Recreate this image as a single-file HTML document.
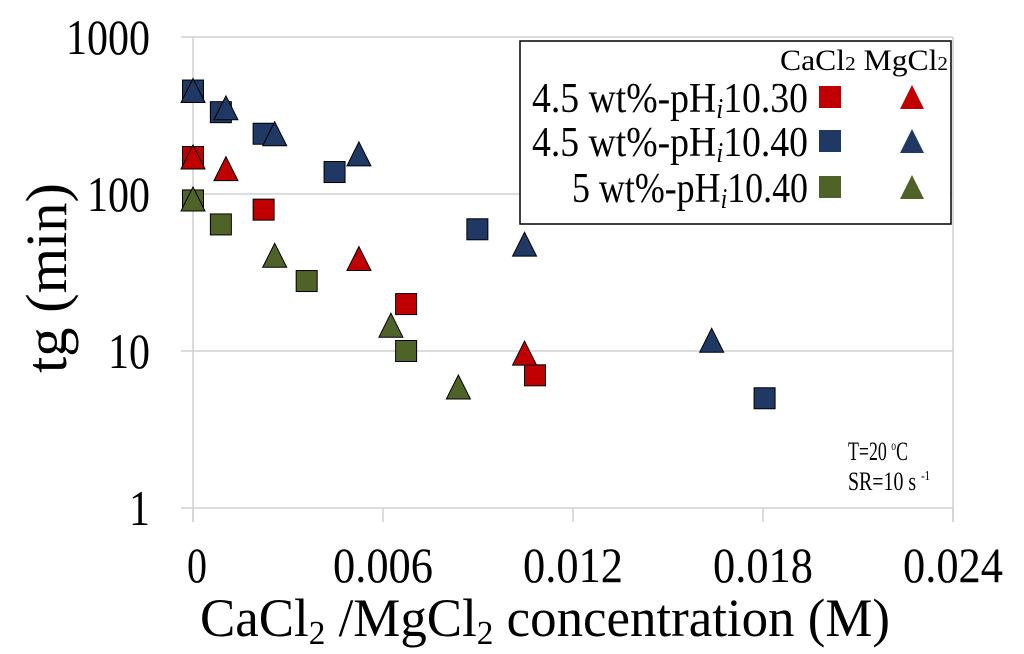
<!DOCTYPE html>
<html><head><meta charset="utf-8"><style>
html,body{margin:0;padding:0;background:#fff;}
svg{display:block;font-family:"Liberation Serif",serif;}
</style></head><body>
<svg width="1024" height="654" viewBox="0 0 1024 654">
<g id="grid"></g>
<g id="axes"></g>
<g id="marks"></g>
<text transform="translate(66,278) rotate(-90)" text-anchor="middle" font-size="58" textLength="190" lengthAdjust="spacingAndGlyphs">tg (min)</text>
<text x="200" y="636" font-size="54" textLength="690" lengthAdjust="spacingAndGlyphs">CaCl<tspan font-size="34" dy="8">2</tspan><tspan dy="-8"> /MgCl</tspan><tspan font-size="34" dy="8">2</tspan><tspan dy="-8"> concentration (M)</tspan></text>
<g>
<rect x="520" y="41" width="431" height="183" fill="#fff" stroke="#000" stroke-width="1.5"/>
<text x="780" y="70" font-size="30" textLength="168" lengthAdjust="spacingAndGlyphs">CaCl<tspan font-size="20">2</tspan> MgCl<tspan font-size="20">2</tspan></text>
<text x="532" y="112" font-size="42" textLength="276" lengthAdjust="spacingAndGlyphs">4.5 wt%-pH<tspan font-style="italic" font-size="28" dy="6">i</tspan><tspan dy="-6">10.30</tspan></text>
<text x="532" y="156" font-size="42" textLength="276" lengthAdjust="spacingAndGlyphs">4.5 wt%-pH<tspan font-style="italic" font-size="28" dy="6">i</tspan><tspan dy="-6">10.40</tspan></text>
<text x="572" y="202" font-size="42" textLength="236" lengthAdjust="spacingAndGlyphs">5 wt%-pH<tspan font-style="italic" font-size="28" dy="6">i</tspan><tspan dy="-6">10.40</tspan></text>
<g id="legmarks"></g>
</g>
<text x="848" y="460" font-size="26" textLength="60" lengthAdjust="spacingAndGlyphs">T=20 <tspan font-size="14" dy="-10">o</tspan><tspan dy="10">C</tspan></text>
<text x="848" y="490" font-size="26" textLength="82" lengthAdjust="spacingAndGlyphs">SR=10 s <tspan font-size="14" dy="-10">-1</tspan></text>
</svg>
<script>
const xTicks=[0,0.006,0.012,0.018,0.024];
const xTickLabels=["0","0.006","0.012","0.018","0.024"];
const yTicks=[1,10,100,1000];
const yTickLabels=["1","10","100","1000"];
const colors=["#c00000","#1f3864","#4f6228"];
const caX_r=[0,0.00223,0.00673,0.0108];
const caY_r=[172,79.5,19.9,7.0];
const mgX_r=[0,0.00104,0.00524,0.01047];
const mgY_r=[172,145,38.8,9.7];
const caX_b=[0,0.00088,0.00223,0.00447,0.00898,0.01805];
const caY_b=[456,332,242,138,59.6,5.0];
const mgX_b=[0,0.00104,0.00258,0.00524,0.01047,0.01638];
const mgY_b=[456,354,242,180,47.9,11.7];
const caX_g=[0,0.00088,0.00359,0.00673];
const caY_g=[91,64,27.9,10];
const mgX_g=[0,0.00258,0.00625,0.00838];
const mgY_g=[93,40.7,14.6,5.9];
const NS="http://www.w3.org/2000/svg";
const X0=193,X1=953,Y1=508,DEC=157;
function sx(v){return X0+v/0.024*(X1-X0);}
function sy(v){return Y1-Math.log10(v)*DEC;}
function mk(t,a,p){const e=document.createElementNS(NS,t);for(const k in a)e.setAttribute(k,a[k]);p.appendChild(e);return e;}
const grid=document.getElementById('grid'),axes=document.getElementById('axes'),marks=document.getElementById('marks');
yTicks.forEach((t,i)=>{
 const l=mk('line',{x1:X0-12,x2:X1,y1:sy(t),y2:sy(t),stroke:'#d0d0d0','stroke-width':1.5},grid);
 
 
 const w=yTickLabels[i].length*21;
 const tx=mk('text',{x:150-w,y:sy(t)+17,'font-size':50,textLength:w,lengthAdjust:'spacingAndGlyphs'},axes);
 tx.textContent=yTickLabels[i];
 
 
});
mk('line',{x1:X0,x2:X0,y1:sy(1000),y2:Y1+14,stroke:'#d0d0d0','stroke-width':1.5},grid);
mk('line',{x1:X1,x2:X1,y1:sy(1000),y2:Y1+14,stroke:'#d0d0d0','stroke-width':1.5},grid);
xTicks.forEach((t,i)=>{
 mk('line',{x1:sx(t),x2:sx(t),y1:Y1,y2:Y1+14,stroke:'#d0d0d0','stroke-width':1.5},grid);
 const w=xTickLabels[i].length*20;
 const tx=mk('text',{x:sx(t)-w/2+(i==0?4:0),y:582,'font-size':50,textLength:w,lengthAdjust:'spacingAndGlyphs'},axes);
 tx.textContent=xTickLabels[i];
 
 
});
function sq(x,y,c,p,h){const e=mk('rect',{x:x-h,y:y-h,width:2*h,height:2*h,fill:c,stroke:'#000','stroke-width':1},p);return e;}
function tri(x,y,c,p,h){const e=mk('polygon',{points:`${x},${y-h} ${x+h},${y+h} ${x-h},${y+h}`,fill:c,stroke:'#000','stroke-width':1},p);return e;}
const sets=[[caX_r,caY_r,mgX_r,mgY_r],[caX_b,caY_b,mgX_b,mgY_b],[caX_g,caY_g,mgX_g,mgY_g]];
sets.forEach((s,k)=>{
 s[0].forEach((x,i)=>{const e=sq(sx(x),sy(s[1][i]),colors[k],marks,10.5);
  
  });
 s[2].forEach((x,i)=>{const e=tri(sx(x),sy(s[3][i]),colors[k],marks,12);
  
  });
});
const lm=document.getElementById('legmarks');
[97,141,187].forEach((y,k)=>{
 const a=sq(830,y,colors[k],lm,11);a.setAttribute('stroke','none');
 
 
 const b=tri(912,y,colors[k],lm,12);b.setAttribute('stroke','none');
 
 
});
</script>
</body></html>
